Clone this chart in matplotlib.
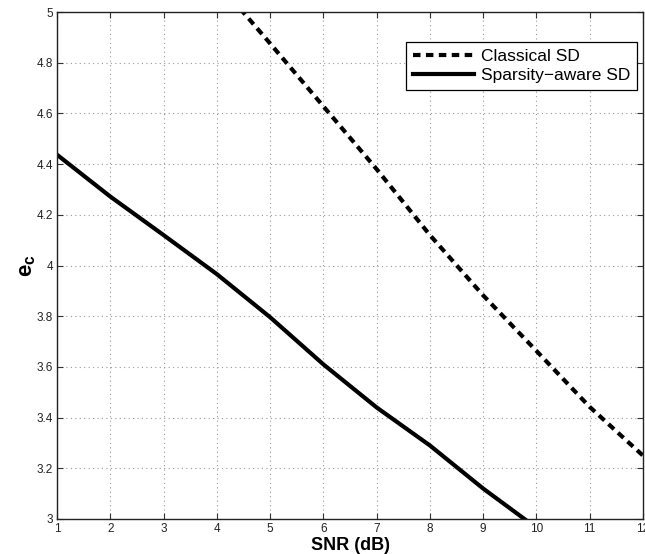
import matplotlib
matplotlib.use("Agg")
import matplotlib.pyplot as plt

plt.rcParams['font.family'] = ['Liberation Sans', 'DejaVu Sans']
plt.rcParams['mathtext.fontset'] = 'custom'
plt.rcParams['mathtext.rm'] = 'Liberation Sans'
plt.rcParams['mathtext.bf'] = 'Liberation Sans:bold'

snr_classical = [4, 5, 6, 7, 8, 9, 10, 11, 12]
ec_classical = [5.12, 4.876, 4.628, 4.38, 4.12, 3.882, 3.663, 3.442, 3.25]

snr_sparse = [1, 2, 3, 4, 5, 6, 7, 8, 9, 10]
ec_sparse = [4.437, 4.272, 4.12, 3.966, 3.796, 3.61, 3.44, 3.29, 3.12, 2.965]

xticks = list(range(1, 13))
yticks = [3, 3.2, 3.4, 3.6, 3.8, 4, 4.2, 4.4, 4.6, 4.8, 5]
ytick_labels = ['3', '3.2', '3.4', '3.6', '3.8', '4', '4.2', '4.4', '4.6', '4.8', '5']

fig = plt.figure(figsize=(6.45, 5.54), dpi=100)
ax = fig.add_axes([0.0884, 0.0632, 0.9085, 0.9151])

ax.plot(snr_classical, ec_classical, color='black', lw=3, linestyle=(0, (1.8, 1.3)),
        label='Classical SD')
ax.plot(snr_sparse, ec_sparse, color='black', lw=3, label='Sparsity\u2212aware SD')

ax.set_xlim(1, 12)
ax.set_ylim(3, 5)
ax.set_xticks(xticks)
ax.set_xticklabels([str(t) for t in xticks])
ax.set_yticks(yticks)
ax.set_yticklabels(ytick_labels)
ax.tick_params(direction='in', top=True, right=True, length=4, width=0.8,
               labelsize=8.5, colors='#333333', labelcolor='#222222', pad=3)
ax.grid(True, color='#999999', linestyle=(0, (1, 3)), linewidth=0.8)
for s in ax.spines.values():
    s.set_linewidth(1.0)
    s.set_color('#222222')

ax.set_xlabel('SNR (dB)', fontsize=13, fontweight='bold', labelpad=1)
ax.set_ylabel(r'$\mathbf{e}_\mathbf{c}$', fontsize=16)
ax.yaxis.set_label_coords(-0.032, 0.5)

leg = ax.legend(loc='upper right', bbox_to_anchor=(0.9898, 0.941), fontsize=12.5,
                fancybox=False, framealpha=1, edgecolor='black', handlelength=3.5,
                borderpad=0.4, labelspacing=0.22, handletextpad=0.4, borderaxespad=0)
leg.get_frame().set_linewidth(0.9)

fig.savefig('out.png', dpi=100)
